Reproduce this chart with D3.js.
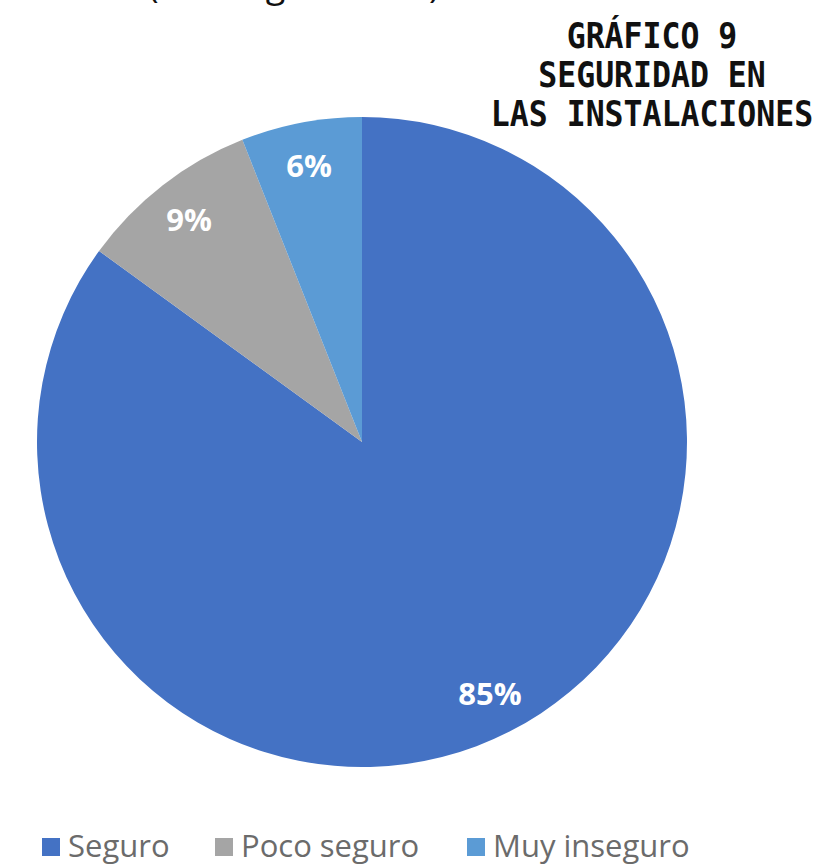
<!DOCTYPE html>
<html>
<head>
<meta charset="utf-8">
<script src="https://cdn.jsdelivr.net/npm/d3@7"></script>
<style>
	body { margin: 0; background: #fff; }
	svg { display: block; }
</style>
</head>
<body>
<div id="chart"></div>
<script>
// Chart data
const categories = ["Seguro", "Poco seguro", "Muy inseguro"];
const values = [85, 9, 6];
const colors = ["#4472C4", "#A5A5A5", "#5B9BD5"];
const titleLines = ["GRÁFICO 9", "SEGURIDAD EN", "LAS INSTALACIONES"];

const width = 824, height = 867;
const cx = 362, cy = 442, radius = 325;

const svg = d3.select("#chart").append("svg")
	.attr("width", width)
	.attr("height", height);

// Partly cut-off caption at the very top
svg.append("text")
	.attr("x", 148)
	.attr("y", -3)
	.style("font-family", "'Open Sans', sans-serif")
	.style("font-size", "36px")
	.style("fill", "#111")
	.text("(Datos generales)");

// Pie
const data = categories.map((c, i) => ({ name: c, value: values[i], color: colors[i] }));

const pie = d3.pie()
	.sort(null)
	.value(d => d.value)
	.startAngle(0)
	.endAngle(2 * Math.PI);

const arc = d3.arc().innerRadius(0).outerRadius(radius);
const labelArc = d3.arc().innerRadius(282).outerRadius(282);

const g = svg.append("g")
	.attr("transform", `translate(${cx},${cy})`);

const slices = g.selectAll(".slice")
	.data(pie(data))
	.enter().append("g")
	.attr("class", "slice");

slices.append("path")
	.attr("d", arc)
	.attr("fill", d => d.data.color);

slices.append("text")
	.attr("transform", d => `translate(${labelArc.centroid(d)})`)
	.attr("text-anchor", "middle")
	.attr("dominant-baseline", "central")
	.style("font-family", "'Open Sans', sans-serif")
	.style("font-weight", "700")
	.style("font-size", "31px")
	.style("fill", "#fff")
	.text(d => d.data.value + "%");

// Title (top right), condensed a little to look like the original font
const title = svg.append("text")
	.attr("text-anchor", "middle")
	.attr("transform", "translate(652,0) scale(0.9,1)")
	.style("font-family", "'DejaVu Sans Mono', monospace")
	.style("font-weight", "700")
	.style("font-size", "35px")
	.style("fill", "#111");

titleLines.forEach((line, i) => {
	title.append("tspan")
		.attr("x", 0)
		.attr("y", 48 + i * 39)
		.text(line);
});

// Legend
const legendX = [42, 215, 467];
const legend = svg.append("g").attr("class", "legend");

data.forEach((d, i) => {
	const item = legend.append("g")
		.attr("transform", `translate(${legendX[i]}, 838)`);

	item.append("rect")
		.attr("x", 0)
		.attr("y", 0)
		.attr("width", 18)
		.attr("height", 18)
		.attr("fill", d.color);

	item.append("text")
		.attr("x", 26)
		.attr("y", 19)
		.style("font-family", "'Open Sans', sans-serif")
		.style("font-size", "31px")
		.style("fill", "#6b6b6b")
		.text(d.name);
});
</script>
</body>
</html>
